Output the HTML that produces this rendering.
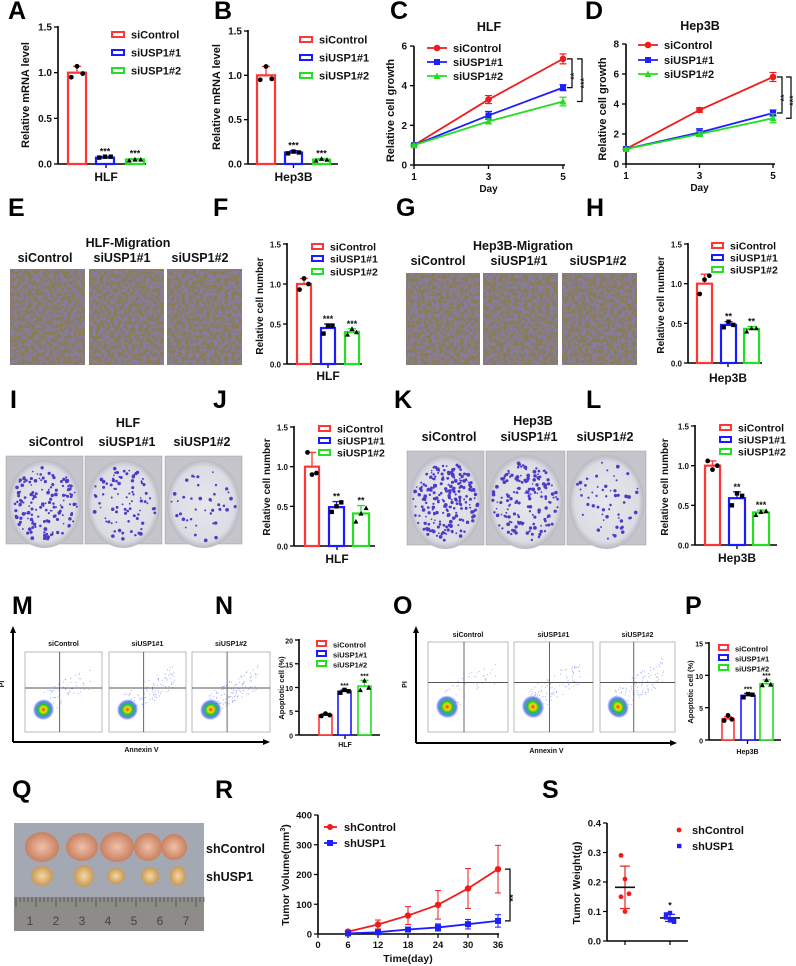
<!DOCTYPE html>
<html><head><meta charset="utf-8"><style>
html,body{margin:0;padding:0;background:#fff;}
svg{display:block;font-family:"Liberation Sans",Arial,sans-serif;font-weight:bold;}
</style></head><body>
<svg id="fig" width="796" height="966" viewBox="0 0 796 966" xmlns="http://www.w3.org/2000/svg">
<defs>
<filter id="migTex" x="0" y="0" width="100%" height="100%">
<feTurbulence type="fractalNoise" baseFrequency="0.28" numOctaves="3" seed="3" result="n"/>
<feColorMatrix in="n" type="matrix" values="0 0 0 0 0.24  0 0 0 0 0.20  0 0 0 0 0.40  0 0 0 -4.5 2.6" result="c"/>
<feComposite in="c" in2="SourceGraphic" operator="over"/>
</filter>
<radialGradient id="blob"><stop offset="0" stop-color="#ff3000"/><stop offset="0.25" stop-color="#f0e000"/><stop offset="0.5" stop-color="#20c040"/><stop offset="0.8" stop-color="#3050ff" stop-opacity="0.7"/><stop offset="1" stop-color="#3050ff" stop-opacity="0"/></radialGradient>
<radialGradient id="dish"><stop offset="0" stop-color="#e6e6ec"/><stop offset="0.85" stop-color="#dcdce4"/><stop offset="1" stop-color="#b8b8c0"/></radialGradient>
<radialGradient id="tumorA"><stop offset="0" stop-color="#f0c0a8"/><stop offset="1" stop-color="#c88060"/></radialGradient>
<radialGradient id="tumorB"><stop offset="0" stop-color="#f4d8a0"/><stop offset="1" stop-color="#c89858"/></radialGradient>
</defs>
<g id="root"></g>
</svg>
<script>
// ---------- DATA ----------
const groups = ['siControl','siUSP1#1','siUSP1#2'];
const aVals=[1.0,0.07,0.05], aErr=[0.07,0.01,0.01], aPts=[[0.95,1.07,0.99],[0.07,0.08,0.08],[0.04,0.05,0.05]], aStars=['','***','***'];
const bVals=[1.0,0.13,0.05], bErr=[0.10,0.02,0.01], bPts=[[0.95,1.10,0.96],[0.12,0.14,0.13],[0.04,0.06,0.05]], bStars=['','***','***'];
const fVals=[1.0,0.45,0.40], fErr=[0.07,0.05,0.04], fPts=[[0.93,1.07,1.0],[0.38,0.48,0.48],[0.37,0.44,0.40]], fStars=['','***','***'];
const hVals=[1.0,0.48,0.43], hErr=[0.12,0.04,0.03], hPts=[[0.87,1.05,1.10],[0.45,0.52,0.48],[0.40,0.44,0.44]], hStars=['','**','**'];
const jVals=[1.0,0.49,0.41], jErr=[0.18,0.07,0.10], jPts=[[1.18,0.90,0.92],[0.43,0.50,0.55],[0.31,0.41,0.48]], jStars=['','**','**'];
const lVals=[1.0,0.59,0.41], lErr=[0.06,0.08,0.03], lPts=[[1.06,0.95,1.0],[0.50,0.65,0.62],[0.38,0.42,0.43]], lStars=['','**','***'];
const nVals=[4.2,9.2,10.3], nErr=[0.3,0.3,1.2], nPts=[[4.0,4.5,4.2],[8.9,9.5,9.2],[9.5,11.5,10.0]], nStars=['','***','***'];
const pVals=[3.3,6.9,8.7], pErr=[0.3,0.3,0.6], pPts=[[3.0,3.8,3.2],[6.6,7.1,7.0],[8.5,9.3,8.6]], pStars=['','***','***'];
const ticks15=[0,0.5,1.0,1.5], ticks15Lbl=['0.0','0.5','1.0','1.5'];
const ticksN=[0,5,10,15,20], ticksP=[0,5,10,15];
const days=[1,3,5];
const cRed=[1,3.3,5.35], cBlue=[1,2.5,3.9], cGreen=[1,2.2,3.2];
const cRedE=[0.05,0.2,0.25], cBlueE=[0.05,0.2,0.15], cGreenE=[0.05,0.12,0.22];
const dRed=[1,3.6,5.8], dBlue=[1,2.1,3.4], dGreen=[1,2.0,3.05];
const dRedE=[0.05,0.15,0.3], dBlueE=[0.05,0.25,0.2], dGreenE=[0.05,0.15,0.3];
const cTicks=[0,2,4,6], dTicks=[0,2,4,6,8];
const rDays=[6,12,18,24,30,36], rXTicks=[0,6,12,18,24,30,36], rYTicks=[0,100,200,300,400];
const rCtrl=[8,32,62,98,153,218], rCtrlE=[5,15,30,48,67,80];
const rUsp=[2,6,15,22,33,44], rUspE=[2,5,8,12,16,21];
const sCtrl=[0.29,0.21,0.16,0.15,0.10], sUsp=[0.08,0.07,0.065,0.09,0.095,0.07];
const sTicks=[0,0.1,0.2,0.3,0.4];

// ---------- HELPERS ----------
const NS='http://www.w3.org/2000/svg';
const root=document.getElementById('root');
function el(tag,attrs,parent,text){const e=document.createElementNS(NS,tag);for(const k in attrs)e.setAttribute(k,attrs[k]);if(text!==undefined)e.textContent=text;(parent||root).appendChild(e);return e;}
function grp(name,parent){const g=el('g',{},parent);return g;}
function txt(g,x,y,s,size,opts){opts=opts||{};const t=el('text',{x:x,y:y,'font-size':size,'text-anchor':opts.anchor||'middle',fill:opts.fill||'#111'},g,s);if(opts.rot)t.setAttribute('transform','rotate(-90 '+x+' '+y+')');if(opts.weight)t.setAttribute('font-weight',opts.weight);return t;}
const COL=['#ff3636','#1a1aff','#22e022'];
function panelLabel(L,x,y){const g=grp('panel-label-'+L.toLowerCase());txt(g,x,y,L,25,{anchor:'start',fill:'#000'});}

function barChart(id,c,vals,errs,pts,stars,ticks,tlbl,maxV){
  const g=grp(id+'-chart');
  const ys=v=>c.y0-(v/maxV)*(c.y0-c.yTop);
  const ax=grp(id+'-y-axis',g);
  el('line',{x1:c.ax,y1:c.yTop-1,x2:c.ax,y2:c.y0,stroke:'#000','stroke-width':1.6},ax);
  ticks.forEach((t,i)=>{const y=ys(t);el('line',{x1:c.ax-4,y1:y,x2:c.ax,y2:y,stroke:'#000','stroke-width':1.3},ax);txt(ax,c.ax-6,y+3.5,tlbl[i],c.fs||10,{anchor:'end'});});
  const xa=grp(id+'-x-axis',g);
  el('line',{x1:c.ax,y1:c.y0,x2:c.xEnd,y2:c.y0,stroke:'#000','stroke-width':1.6},xa);
  const mid=(c.bars[0][0]+c.bars[2][1])/2;
  el('line',{x1:mid,y1:c.y0,x2:mid,y2:c.y0+4,stroke:'#000','stroke-width':1.3},xa);
  txt(xa,mid,c.xlY,c.xl,c.xlFs||12);
  const yt=grp(id+'-y-axis-title',g);txt(yt,c.ytX,c.ytY,c.yt,c.ytFs||11,{rot:true});
  vals.forEach((v,i)=>{
    const b=grp(id+'-bar-'+groups[i].toLowerCase().replace('#','-'),g);
    const x0=c.bars[i][0],x1=c.bars[i][1],cx=(x0+x1)/2,y=ys(v);
    el('rect',{x:x0,y:y,width:x1-x0,height:c.y0-y,fill:'#fff',stroke:COL[i],'stroke-width':c.sw||2.2},b);
    const ye=ys(v+errs[i]);
    el('line',{x1:cx,y1:y,x2:cx,y2:ye,stroke:COL[i],'stroke-width':1.3},b);
    el('line',{x1:cx-4,y1:ye,x2:cx+4,y2:ye,stroke:COL[i],'stroke-width':1.3},b);
    pts[i].forEach((p,k)=>{const px=cx+(k-1)*(x1-x0)*0.32,py=ys(p);
      if(i==2)el('path',{d:`M${px-2.5},${py+2.2}L${px+2.5},${py+2.2}L${px},${py-2.5}Z`,fill:'#000'},b);
      else if(i==1)el('rect',{x:px-2.2,y:py-2.2,width:4.4,height:4.4,fill:'#000'},b);
      else el('circle',{cx:px,cy:py,r:2.4,fill:'#000'},b);});
    if(stars[i])txt(b,cx,ys(v+errs[i])-2,stars[i],c.starFs||9);
  });
  const lg=grp(id+'-legend',g);
  groups.forEach((n,i)=>{const e=grp(id+'-legend-entry-'+(i+1),lg);
    el('rect',{x:c.lx,y:c.ly[i]-3,width:c.lw||12,height:5,fill:'#fff',stroke:COL[i],'stroke-width':2},e);
    txt(e,c.lx+(c.lw||12)+7,c.ly[i]+3.5,n,c.lfs||11,{anchor:'start'});});
}

function lineChart(id,c,series,errsets,ticks,title){
  const g=grp(id+'-chart');
  const xs=d=>c.x0+(d-1)*(c.x5-c.x0)/4;
  const ys=v=>c.y0-v*(c.y0-c.yTop)/c.max;
  const ax=grp(id+'-y-axis',g);
  el('line',{x1:c.x0,y1:c.yTop,x2:c.x0,y2:c.y0,stroke:'#000','stroke-width':1.6},ax);
  ticks.forEach(t=>{const y=ys(t);el('line',{x1:c.x0-4,y1:y,x2:c.x0,y2:y,stroke:'#000','stroke-width':1.3},ax);txt(ax,c.x0-7,y+3.5,String(t),10,{anchor:'end'});});
  const xa=grp(id+'-x-axis',g);
  el('line',{x1:c.x0,y1:c.y0,x2:c.x5+2,y2:c.y0,stroke:'#000','stroke-width':1.6},xa);
  days.forEach(d=>{const x=xs(d);el('line',{x1:x,y1:c.y0,x2:x,y2:c.y0+4,stroke:'#000','stroke-width':1.3},xa);txt(xa,x,c.y0+15,String(d),10);});
  txt(grp(id+'-x-axis-title',g),(c.x0+c.x5)/2,c.y0+27,'Day',10);
  txt(grp(id+'-y-axis-title',g),c.ytX,(c.y0+c.yTop)/2+5,'Relative cell growth',11,{rot:true});
  txt(grp(id+'-title',g),c.tX,c.tY,title,12.5);
  const LC=['#ee1c1c','#1e1eff','#22dd22'];
  series.forEach((s,i)=>{const sg=grp(id+'-series-'+groups[i].toLowerCase().replace('#','-'),g);
    el('polyline',{points:s.map((v,k)=>xs(days[k])+','+ys(v)).join(' '),fill:'none',stroke:LC[i],'stroke-width':1.8},sg);
    s.forEach((v,k)=>{const x=xs(days[k]),y=ys(v),e=errsets[i][k];
      el('line',{x1:x,y1:ys(v-e),x2:x,y2:ys(v+e),stroke:LC[i],'stroke-width':1.2},sg);
      el('line',{x1:x-3.5,y1:ys(v+e),x2:x+3.5,y2:ys(v+e),stroke:LC[i],'stroke-width':1.2},sg);
      el('line',{x1:x-3.5,y1:ys(v-e),x2:x+3.5,y2:ys(v-e),stroke:LC[i],'stroke-width':1.2},sg);
      if(i==0)el('circle',{cx:x,cy:y,r:3.3,fill:LC[i]},sg);
      else if(i==1)el('rect',{x:x-3,y:y-3,width:6,height:6,fill:LC[i]},sg);
      else el('path',{d:`M${x-3.5},${y+3}L${x+3.5},${y+3}L${x},${y-3.5}Z`,fill:LC[i]},sg);});
  });
  const br=grp(id+'-significance',g);
  const last=series.map(s=>ys(s[2]));
  [[0,1,c.b1,'**'],[0,2,c.b2,'***']].forEach(([a,b,x,s])=>{
    el('polyline',{points:`${x-5},${last[a]} ${x},${last[a]} ${x},${last[b]} ${x-5},${last[b]}`,fill:'none',stroke:'#000','stroke-width':1.2},br);
    txt(br,x+5,(last[a]+last[b])/2+3,s,9,{rot:true});});
  const lg=grp(id+'-legend',g);
  groups.forEach((n,i)=>{const e=grp(id+'-legend-entry-'+(i+1),lg);const y=c.ly[i];
    el('line',{x1:c.lx,y1:y,x2:c.lx+20,y2:y,stroke:LC[i],'stroke-width':1.8},e);
    const x=c.lx+10;
    if(i==0)el('circle',{cx:x,cy:y,r:3.3,fill:LC[i]},e);else if(i==1)el('rect',{x:x-3,y:y-3,width:6,height:6,fill:LC[i]},e);else el('path',{d:`M${x-3.5},${y+3}L${x+3.5},${y+3}L${x},${y-3.5}Z`,fill:LC[i]},e);
    txt(e,c.lx+26,y+4,n,11,{anchor:'start'});});
}

let seed=7;function rnd(){seed=(seed*16807)%2147483647;return seed/2147483647;}

function migration(id,xs,y0,y1,title,tx,ty,subY,subX){
  const g=grp(id+'-migration-images');
  txt(g,tx,ty,title,12.5);
  xs.forEach((x,i)=>{const p=grp(id+'-image-'+(i+1),g);
    txt(p,subX[i],subY,groups[i],12.5);
    el('rect',{x:x[0],y:y0,width:x[1]-x[0],height:y1-y0,fill:'#8a7d52',filter:'url(#migTex)'},p);});
}
function colony(id,xs,y0,y1,title,tx,ty,subY,subX,counts){
  const g=grp(id+'-colony-images');
  txt(g,tx,ty,title,12.5);
  xs.forEach((x,i)=>{const p=grp(id+'-plate-'+(i+1),g);
    txt(p,subX[i],subY,groups[i],12.5);
    const w=x[1]-x[0],h=y1-y0;
    el('rect',{x:x[0],y:y0,width:w,height:h,fill:'#c4c4ca',stroke:'#999','stroke-width':0.5},p);
    const cx=x[0]+w/2,cy=y0+h/2+4;
    el('ellipse',{cx:cx,cy:cy,rx:w/2-2,ry:h/2,fill:'url(#dish)'},p);
    for(let k=0;k<counts[i];k++){const a=rnd()*6.283,rr=Math.sqrt(rnd())*(w/2-6);
      el('circle',{cx:cx+Math.cos(a)*rr,cy:cy+Math.sin(a)*rr*h/w,r:0.8+rnd()*1.1,fill:'#4a3cc8'},p);}
  });
}
function flow(id,c){
  const g=grp(id+'-flow-plots');
  el('line',{x1:c.ax,y1:c.yb,x2:c.ax,y2:c.yt+6,stroke:'#000','stroke-width':2},g);
  el('path',{d:`M${c.ax-3},${c.yt+7}L${c.ax+3},${c.yt+7}L${c.ax},${c.yt}Z`,fill:'#000'},g);
  el('line',{x1:c.ax,y1:c.yb,x2:c.xr-6,y2:c.yb,stroke:'#000','stroke-width':2},g);
  el('path',{d:`M${c.xr-7},${c.yb-3}L${c.xr-7},${c.yb+3}L${c.xr},${c.yb}Z`,fill:'#000'},g);
  txt(g,c.ax-9,(c.yt+c.yb)/2,'PI',7,{rot:true});
  txt(g,(c.ax+c.xr)/2,c.yb+10,'Annexin V',7);
  c.boxes.forEach((b,i)=>{const p=grp(id+'-flow-'+(i+1),g);
    txt(p,(b[0]+b[1])/2,c.tY,groups[i],7);
    const w=b[1]-b[0],h=c.by1-c.by0;
    el('rect',{x:b[0],y:c.by0,width:w,height:h,fill:'#fff',stroke:'#aaa','stroke-width':0.8},p);
    for(let k=0;k<c.scatter[i];k++){const px=b[0]+w*(0.2+rnd()*0.65),py=c.by0+h*(0.78-(px-b[0])/w*0.55+ (rnd()-0.5)*0.3);
      if(py>c.by0+2&&py<c.by1-2)el('circle',{cx:px,cy:py,r:0.5,fill:'#8a9aff'},p);}
    el('ellipse',{cx:b[0]+w*0.24,cy:c.by0+h*0.72,rx:w*0.14,ry:h*0.13,fill:'url(#blob)',transform:`rotate(-35 ${b[0]+w*0.24} ${c.by0+h*0.72})`},p);
    el('line',{x1:b[0]+w*0.45,y1:c.by0,x2:b[0]+w*0.45,y2:c.by1,stroke:'#555','stroke-width':0.9},p);
    el('line',{x1:b[0],y1:c.by0+h*0.45,x2:b[1],y2:c.by0+h*0.45,stroke:'#555','stroke-width':0.9},p);
  });
}

// ---------- BUILD ----------
['A',8,19,'B',214,19,'C',390,19,'D',585,19,'E',8,216,'F',213,216,'G',396,216,'H',586,216,
 'I',10,408,'J',213,408,'K',394,408,'L',586,408,'M',12,614,'N',215,614,'O',393,614,'P',685,614,
 'Q',12,798,'R',215,798,'S',542,798].reduce((a,v,i,arr)=>{if(i%3==0)panelLabel(arr[i],arr[i+1],arr[i+2]);return a;},0);

barChart('panel-a',{ax:58,y0:164,yTop:27,xEnd:146,bars:[[68,86],[96,114],[126,144]],xl:'HLF',xlY:181,yt:'Relative mRNA level',ytX:29,ytY:95,lx:112,ly:[35,53,71]},aVals,aErr,aPts,aStars,ticks15,ticks15Lbl,1.5);
barChart('panel-b',{ax:248,y0:164,yTop:31,xEnd:338,bars:[[257,275],[285,302],[313,330]],xl:'Hep3B',xlY:181,yt:'Relative mRNA level',ytX:220,ytY:97,lx:300,ly:[40,58,76]},bVals,bErr,bPts,bStars,ticks15,ticks15Lbl,1.5);
lineChart('panel-c',{x0:414,x5:563,y0:165,yTop:46,max:6,ytX:394,tX:489,tY:31,b1:572,b2:582,lx:427,ly:[48,62,76]},[cRed,cBlue,cGreen],[cRedE,cBlueE,cGreenE],cTicks,'HLF');
lineChart('panel-d',{x0:626,x5:773,y0:164,yTop:44,max:8,ytX:606,tX:700,tY:30,b1:782,b2:791,lx:638,ly:[45,60,74]},[dRed,dBlue,dGreen],[dRedE,dBlueE,dGreenE],dTicks,'Hep3B');

migration('panel-e',[[10,85],[89,164],[167,242]],269,365,'HLF-Migration',128,247,262,[45,122,200]);
barChart('panel-f',{ax:287,y0:364,yTop:244,xEnd:362,bars:[[297,311],[321,335],[345,359]],xl:'HLF',xlY:380,yt:'Relative cell number',ytX:263,ytY:306,lx:312,ly:[247,259,272],lfs:10.5,fs:8,ytFs:10,lw:11},fVals,fErr,fPts,fStars,ticks15,ticks15Lbl,1.5);
migration('panel-g',[[406,480],[483,558],[562,637]],273,365,'Hep3B-Migration',523,250,265,[438,519,598]);
barChart('panel-h',{ax:688,y0:363,yTop:244,xEnd:762,bars:[[697,712],[721,736],[744,759]],xl:'Hep3B',xlY:382,yt:'Relative cell number',ytX:664,ytY:305,lx:712,ly:[246,258,270],lfs:10.5,fs:8,ytFs:10,lw:11},hVals,hErr,hPts,hStars,ticks15,ticks15Lbl,1.5);

colony('panel-i',[[6,83],[85,162],[165,242]],456,544,'HLF',128,427,446,[56,127,202],[150,90,40]);
barChart('panel-j',{ax:294,y0:546,yTop:427,xEnd:375,bars:[[305,319],[329,344],[353,369]],xl:'HLF',xlY:563,yt:'Relative cell number',ytX:270,ytY:487,lx:319,ly:[429,441,453],lfs:10.5,fs:8,ytFs:10,lw:11},jVals,jErr,jPts,jStars,ticks15,ticks15Lbl,1.5);
colony('panel-k',[[407,484],[486,565],[567,646]],451,545,'Hep3B',533,425,441,[449,529,605],[230,160,55]);
barChart('panel-l',{ax:695,y0:545,yTop:426,xEnd:777,bars:[[705,720],[729,745],[753,769]],xl:'Hep3B',xlY:562,yt:'Relative cell number',ytX:668,ytY:487,lx:720,ly:[428,440,452],lfs:10.5,fs:8,ytFs:10,lw:11},lVals,lErr,lPts,lStars,ticks15,ticks15Lbl,1.5);

flow('panel-m',{ax:13,yt:626,yb:742,xr:270,tY:646,by0:652,by1:732,boxes:[[25,102],[109,186],[192,270]],scatter:[60,110,140]});
barChart('panel-n',{ax:299,y0:735,yTop:640,xEnd:380,bars:[[319,332],[338,351],[358,371]],xl:'HLF',xlY:747,yt:'Apoptotic cell (%)',ytX:284,ytY:688,lx:317,ly:[644,654,664],lfs:7.5,fs:7,ytFs:7.5,xlFs:7,lw:9,sw:1.6,starFs:7},nVals,nErr,nPts,nStars,ticksN,ticksN.map(String),20);
flow('panel-o',{ax:416,yt:626,yb:743,xr:677,tY:637,by0:642,by1:732,boxes:[[428,508],[514,593],[600,675]],scatter:[50,100,110]});
barChart('panel-p',{ax:709,y0:740,yTop:643,xEnd:781,bars:[[722,734],[741,755],[760,773]],xl:'Hep3B',xlY:754,yt:'Apoptotic cell (%)',ytX:693,ytY:692,lx:719,ly:[648,658,668],lfs:7.5,fs:7,ytFs:7.5,xlFs:7,lw:9,sw:1.6,starFs:7},pVals,pErr,pPts,pStars,ticksP,ticksP.map(String),15);

// Q photo
(function(){const g=grp('panel-q-tumor-photo');
  el('rect',{x:14,y:823,width:190,height:108,fill:'#a4a8b2'},g);
  [[42,17,15],[82,16,14],[117,17,15],[148,14,14],[174,13,13]].forEach((t,i)=>{const e=el('ellipse',{cx:t[0],cy:847,rx:t[1],ry:t[2],fill:'url(#tumorA)'},g);});
  [[42,11,10],[84,10,11],[116,9,8],[150,9,9],[178,8,10]].forEach((t,i)=>{const e=el('ellipse',{cx:t[0],cy:876,rx:t[1],ry:t[2],fill:'url(#tumorB)'},g);});
  el('rect',{x:14,y:897,width:190,height:34,fill:'#8e8c88'},g);
  for(let k=0;k<48;k++){const x=16+k*4;el('line',{x1:x,y1:897,x2:x,y2:897+(k%5==0?10:5),stroke:'#333','stroke-width':0.6},g);}
  ['1','2','3','4','5','6','7'].forEach((n,i)=>txt(g,30+i*26,925,n,12,{fill:'#444',weight:'normal'}));
  txt(g,206,853,'shControl',12.5,{anchor:'start'});
  txt(g,206,881,'shUSP1',12.5,{anchor:'start'});
})();

// R line chart
(function(){const g=grp('panel-r-chart');
  const x0=318,x36=498,y0=934,yT=815;
  const xs=d=>x0+d*(x36-x0)/36, ys=v=>y0-v*(y0-yT)/400;
  const ax=grp('panel-r-y-axis',g);el('line',{x1:x0,y1:yT,x2:x0,y2:y0,stroke:'#000','stroke-width':1.6},ax);
  rYTicks.forEach(t=>{el('line',{x1:x0-4,y1:ys(t),x2:x0,y2:ys(t),stroke:'#000','stroke-width':1.2},ax);txt(ax,x0-6,ys(t)+3.5,String(t),9.5,{anchor:'end'});});
  const xa=grp('panel-r-x-axis',g);el('line',{x1:x0,y1:y0,x2:x36+1,y2:y0,stroke:'#000','stroke-width':1.6},xa);
  rXTicks.forEach(t=>{el('line',{x1:xs(t),y1:y0,x2:xs(t),y2:y0+4,stroke:'#000','stroke-width':1.2},xa);txt(xa,xs(t),y0+14,String(t),9.5);});
  txt(grp('panel-r-x-axis-title',g),408,962,'Time(day)',10.5);
  const yt=grp('panel-r-y-axis-title',g);const t=txt(yt,289,875,'Tumor Volume(mm',10.5,{rot:true});el('tspan',{'font-size':7,dy:-4},t,'3');el('tspan',{dy:4},t,')');
  [[rCtrl,rCtrlE,'#ee1c1c','shcontrol'],[rUsp,rUspE,'#1e1eff','shusp1']].forEach(([s,e,c,n],si)=>{const sg=grp('panel-r-series-'+n,g);
    el('polyline',{points:s.map((v,k)=>xs(rDays[k])+','+ys(v)).join(' '),fill:'none',stroke:c,'stroke-width':1.8},sg);
    s.forEach((v,k)=>{const x=xs(rDays[k]);
      el('line',{x1:x,y1:ys(Math.max(0,v-e[k])),x2:x,y2:ys(v+e[k]),stroke:c,'stroke-width':1},sg);
      el('line',{x1:x-3,y1:ys(v+e[k]),x2:x+3,y2:ys(v+e[k]),stroke:c,'stroke-width':1},sg);
      el('line',{x1:x-3,y1:ys(Math.max(0,v-e[k])),x2:x+3,y2:ys(Math.max(0,v-e[k])),stroke:c,'stroke-width':1},sg);
      if(si==0)el('circle',{cx:x,cy:ys(v),r:3.2,fill:c},sg);else el('rect',{x:x-3,y:ys(v)-3,width:6,height:6,fill:c},sg);});});
  const br=grp('panel-r-significance',g);const a=ys(rCtrl[5]),b=ys(rUsp[5]);
  el('polyline',{points:`505,${a} 510,${a} 510,${b} 505,${b}`,fill:'none',stroke:'#000','stroke-width':1.2},br);
  txt(br,516,(a+b)/2+3,'**',9,{rot:true});
  const lg=grp('panel-r-legend',g);
  [['shControl','#ee1c1c',827],['shUSP1','#1e1eff',843]].forEach(([n,c,y],i)=>{const e=grp('panel-r-legend-entry-'+(i+1),lg);
    el('line',{x1:324,y1:y,x2:337,y2:y,stroke:c,'stroke-width':1.8},e);
    if(i==0)el('circle',{cx:330,cy:y,r:3,fill:c},e);else el('rect',{x:327,y:y-3,width:6,height:6,fill:c},e);
    txt(e,344,y+4,n,11,{anchor:'start'});});
})();

// S scatter
(function(){const g=grp('panel-s-chart');
  const x0=607,y0=941,yT=823,ys=v=>y0-v*(y0-yT)/0.4;
  const ax=grp('panel-s-y-axis',g);el('line',{x1:x0,y1:yT,x2:x0,y2:y0,stroke:'#000','stroke-width':1.6},ax);
  sTicks.forEach(t=>{el('line',{x1:x0-4,y1:ys(t),x2:x0,y2:ys(t),stroke:'#000','stroke-width':1.2},ax);txt(ax,x0-6,ys(t)+3.5,t.toFixed(1),9.5,{anchor:'end'});});
  const xa=grp('panel-s-x-axis',g);el('line',{x1:x0,y1:y0,x2:688,y2:y0,stroke:'#000','stroke-width':1.6},xa);
  [625,670].forEach(x=>el('line',{x1:x,y1:y0,x2:x,y2:y0+4,stroke:'#000','stroke-width':1.2},xa));
  txt(grp('panel-s-y-axis-title',g),580,883,'Tumor Weight(g)',10.5,{rot:true});
  [[sCtrl,'#ee1c1c',625,'shcontrol'],[sUsp,'#1e1eff',670,'shusp1']].forEach(([s,c,cx,n],si)=>{const sg=grp('panel-s-series-'+n,g);
    const m=s.reduce((a,b)=>a+b,0)/s.length;const sd=Math.sqrt(s.reduce((a,b)=>a+(b-m)*(b-m),0)/(s.length-1));
    el('line',{x1:cx,y1:ys(m-sd),x2:cx,y2:ys(m+sd),stroke:c,'stroke-width':1.2},sg);
    el('line',{x1:cx-5,y1:ys(m+sd),x2:cx+5,y2:ys(m+sd),stroke:c,'stroke-width':1.2},sg);
    el('line',{x1:cx-5,y1:ys(m-sd),x2:cx+5,y2:ys(m-sd),stroke:c,'stroke-width':1.2},sg);
    el('line',{x1:cx-10,y1:ys(m),x2:cx+10,y2:ys(m),stroke:'#111','stroke-width':1.6},sg);
    s.forEach((v,k)=>{const x=cx+((k%3)-1)*4;if(si==0)el('circle',{cx:x,cy:ys(v),r:2.4,fill:c},sg);else el('rect',{x:x-2.2,y:ys(v)-2.2,width:4.4,height:4.4,fill:c},sg);});
    if(si==1)txt(sg,cx,ys(m+sd)-6,'*',9);
  });
  const lg=grp('panel-s-legend',g);
  [['shControl','#ee1c1c',830],['shUSP1','#1e1eff',846]].forEach(([n,c,y],i)=>{const e=grp('panel-s-legend-entry-'+(i+1),lg);
    if(i==0)el('circle',{cx:679,cy:y,r:2.4,fill:c},e);else el('rect',{x:677,y:y-2.2,width:4.4,height:4.4,fill:c},e);
    txt(e,692,y+4,n,11,{anchor:'start'});});
})();
</script>
</body></html>
